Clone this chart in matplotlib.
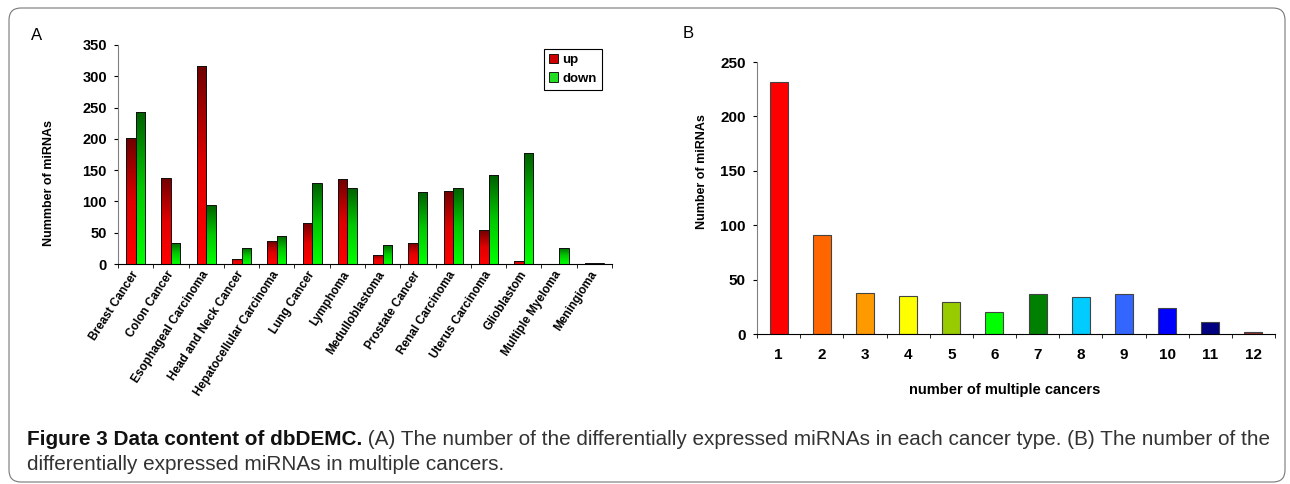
import numpy as np
import matplotlib
matplotlib.use('Agg')
import matplotlib.pyplot as plt
from matplotlib.patches import Patch, FancyBboxPatch
from matplotlib.colors import LinearSegmentedColormap
from matplotlib.transforms import IdentityTransform
from matplotlib import font_manager

# panel A data
cancers = ['Breast Cancer', 'Colon Cancer', 'Esophageal Carcinoma', 'Head and Neck Cancer',
           'Hepatocellular Carcinoma', 'Lung Cancer', 'Lymphoma', 'Medulloblastoma',
           'Prostate Cancer', 'Renal Carcinoma', 'Uterus Carcinoma', 'Glioblastom',
           'Multiple Myeloma', 'Meningioma']
up = [201, 138, 317, 8, 36, 66, 136, 15, 34, 117, 54, 4, 0, 1]
down = [243, 34, 94, 26, 45, 129, 122, 31, 115, 122, 142, 178, 26, 1]

# panel B data
n_cancers = ['1', '2', '3', '4', '5', '6', '7', '8', '9', '10', '11', '12']
n_mirnas = [232, 91, 38, 35, 29, 20, 37, 34, 37, 24, 11, 2]
b_colors = ['#FF0000', '#FF6600', '#FF9900', '#FFFF00', '#99CC00', '#00FF00',
            '#008000', '#00CCFF', '#3366FF', '#0000FF', '#000080', '#993333']

names = set(f.name for f in font_manager.fontManager.ttflist)
narrow = 'Liberation Sans Narrow' if 'Liberation Sans Narrow' in names else 'Liberation Sans'

plt.rcParams['font.family'] = ['Liberation Sans', 'DejaVu Sans']
num_font = [narrow, 'DejaVu Sans']

W, H = 1290, 484
fig = plt.figure(figsize=(W/100, H/100), dpi=100)

def px_axes(l, t, r, b):
    return fig.add_axes([l/W, 1-b/H, (r-l)/W, (b-t)/H])

axA = px_axes(118, 45, 612, 264)
axB = px_axes(757, 62, 1275, 334)

# ---- A ----
red_cm = LinearSegmentedColormap.from_list('r', ['#FF0000', '#E00000', '#700000'])
green_cm = LinearSegmentedColormap.from_list('g', ['#00FF00', '#00C800', '#006000'])
grad = np.linspace(0, 1, 64).reshape(-1, 1)

x = np.arange(len(cancers))
w = 0.27
bars_up = axA.bar(x - w/2, up, w, color='none', edgecolor='#111111', lw=0.7, zorder=3)
bars_dn = axA.bar(x + w/2, down, w, color='none', edgecolor='#111111', lw=0.7, zorder=3)
for bars, cm in ((bars_up, red_cm), (bars_dn, green_cm)):
    for b in bars:
        h = b.get_height()
        if h <= 0:
            continue
        x0 = b.get_x()
        im = axA.imshow(grad, extent=[x0, x0 + b.get_width(), 0, h], origin='lower',
                        aspect='auto', cmap=cm, zorder=2, interpolation='bilinear')
        im.set_clip_path(b)

axA.set_xlim(-0.5, len(cancers) - 0.5)
axA.set_ylim(0, 350)
axA.set_yticks(range(0, 351, 50))
axA.set_xticks(x)
axA.set_xticklabels(cancers, rotation=57, ha='right', va='center', rotation_mode='anchor',
                    fontsize=8.5, fontweight='bold')
axA.set_xticks(np.arange(-0.5, len(cancers), 1), minor=True)
axA.tick_params(axis='x', which='major', length=0, pad=6)
axA.tick_params(axis='x', which='minor', length=3, direction='out')
axA.tick_params(axis='y', length=3, pad=5)
for t in axA.get_yticklabels():
    t.set_fontweight('bold')
    t.set_family(num_font)
    t.set_fontsize(10.5)
axA.spines['top'].set_visible(False)
axA.spines['right'].set_visible(False)
axA.spines['left'].set_color('#808080')
axA.set_ylabel('Nummber of miRNAs', fontsize=9, fontweight='bold')
axA.yaxis.set_label_coords(-0.128, 0.37)

leg = axA.legend([Patch(facecolor='#CC0000', edgecolor='black', lw=0.6),
                  Patch(facecolor='#22DD22', edgecolor='black', lw=0.6)],
                 ['up', 'down'], loc='upper left', bbox_to_anchor=(0.862, 0.982),
                 prop={'weight': 'bold', 'size': 9.5, 'family': num_font}, fancybox=False,
                 framealpha=1, edgecolor='black', handlelength=0.7, handleheight=0.7,
                 handletextpad=0.3, borderpad=0.4, labelspacing=0.45, borderaxespad=0)
leg.get_frame().set_linewidth(0.8)

# ---- B ----
xb = np.arange(len(n_cancers))
axB.bar(xb, n_mirnas, 0.42, color=b_colors, edgecolor='#444444', lw=0.8, zorder=2)
axB.set_xlim(-0.5, len(n_cancers) - 0.5)
axB.set_ylim(0, 250)
axB.set_yticks(range(0, 251, 50))
axB.set_xticks(xb)
axB.set_xticklabels(n_cancers)
axB.set_xticks(np.arange(-0.5, len(n_cancers), 1), minor=True)
axB.tick_params(axis='x', which='major', length=0, pad=10)
axB.tick_params(axis='x', which='minor', length=3, direction='out')
axB.tick_params(axis='y', length=3, pad=5)
for t in axB.get_yticklabels() + axB.get_xticklabels():
    t.set_fontweight('bold')
    t.set_family(num_font)
    t.set_fontsize(11)
axB.spines['top'].set_visible(False)
axB.spines['right'].set_visible(False)
axB.spines['left'].set_color('#808080')
axB.set_ylabel('Number of miRNAs', fontsize=9, fontweight='bold')
axB.yaxis.set_label_coords(-0.095, 0.596)
axB.set_xlabel('number of multiple cancers', fontsize=10.5, fontweight='bold', family=num_font)
axB.xaxis.set_label_coords(0.479, -0.18)

# panel letters
fig.text(37/W, 1-35/H, 'A', fontsize=12, ha='center', va='center')
fig.text(688/W, 1-34/H, 'B', fontsize=12, ha='center', va='center')

# frame
frame = FancyBboxPatch((9, 2), W - 14, H - 10, boxstyle='round,pad=0,rounding_size=12',
                       transform=IdentityTransform(), fill=False, edgecolor='#777777',
                       lw=0.8, figure=fig)
fig.patches.append(frame)

# caption
cap_font = [narrow, 'DejaVu Sans']
line1_x0, line1_x1 = 27, 1268
bold_txt = 'Figure 3 Data content of dbDEMC.'
rest_txt = ' (A) The number of the differentially expressed miRNAs in each cancer type. (B) The number of the'
fs = 12
r = fig.canvas.get_renderer()
for _ in range(3):
    t1 = fig.text(0, 0, bold_txt, fontsize=fs, fontweight='bold', family=cap_font)
    t2 = fig.text(0, 0, rest_txt, fontsize=fs, family=cap_font)
    wsum = t1.get_window_extent(r).width + t2.get_window_extent(r).width
    t1.remove(); t2.remove()
    fs = fs * (line1_x1 - line1_x0) / wsum

t1 = fig.text(line1_x0/W, 1-445/H, bold_txt, fontsize=fs, fontweight='bold',
              family=cap_font, va='baseline', color='#111111')
bb = t1.get_window_extent(r)
fig.text(bb.x1/W, 1-445/H, rest_txt, fontsize=fs, family=cap_font, va='baseline',
         color='#333333')
fig.text(line1_x0/W, 1-470/H, 'differentially expressed miRNAs in multiple cancers.',
         fontsize=fs, family=cap_font, va='baseline', color='#333333')

fig.savefig('out.png', dpi=100)
